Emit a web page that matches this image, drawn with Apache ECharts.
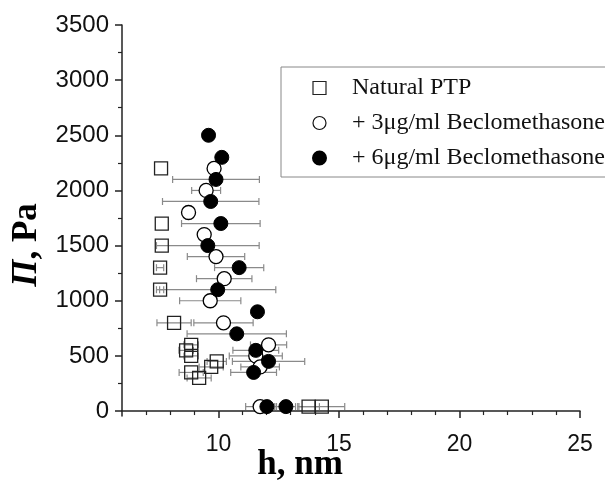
<!DOCTYPE html>
<html>
<head>
<meta charset="utf-8">
<script src="https://cdn.jsdelivr.net/npm/echarts@6/dist/echarts.min.js"></script>
<style>html,body{margin:0;padding:0;background:#fff}#c{width:605px;height:484px}</style>
</head>
<body>
<div id="c"></div>
<script>
// ---- data (h in nm, Π in Pa, horizontal error in nm) ----
var ptpH   = [7.62, 7.65, 7.65, 7.58, 7.58, 8.16, 8.87, 8.66, 8.87, 9.93, 9.70, 8.87, 9.20, 13.74, 14.29];
var ptpP   = [2200, 1700, 1500, 1300, 1100, 800, 600, 550, 500, 450, 400, 350, 300, 40, 40];
var ptpErr = [0, 0, 0, 0.15, 0.15, 0.71, 0.3, 0.3, 0.3, 0.4, 0.5, 0.5, 0.5, 0.45, 0.95];

var b3H   = [9.82, 9.49, 8.76, 9.41, 9.90, 10.24, 9.66, 10.21, 12.08, 11.55, 11.73, 11.73];
var b3P   = [2200, 2000, 1800, 1600, 1400, 1200, 1000, 800, 600, 500, 400, 40];
var b3Err = [0, 0.6, 0, 0, 1.19, 1.15, 1.27, 1.23, 0.75, 1.1, 0.8, 0.6];

var b6H   = [9.59, 10.14, 9.90, 9.68, 10.10, 9.56, 10.86, 9.97, 11.62, 10.76, 11.55, 12.08, 11.46, 12.01, 12.80];
var b6P   = [2500, 2300, 2100, 1900, 1700, 1500, 1300, 1100, 900, 700, 550, 450, 350, 40, 40];
var b6Err = [0, 0, 1.8, 2.0, 1.63, 2.13, 1.02, 2.41, 0, 2.06, 0.95, 1.5, 0.95, 0.4, 0.4];

var xMajor = [10, 15, 20, 25];
var xMinor = [7, 8, 9, 11, 12, 13, 14, 16, 17, 18, 19, 21, 22, 23, 24];
var yMajor = [0, 500, 1000, 1500, 2000, 2500, 3000, 3500];
var yMinor = [250, 750, 1250, 1750, 2250, 2750, 3250];

var names = ['Natural PTP', '+ 3\u03bcg/ml Beclomethasone', '+ 6\u03bcg/ml Beclomethasone'];

function pts(h, p) { return h.map(function (v, i) { return [v, p[i]]; }); }
function errPts(h, p, e) {
  var out = [];
  h.forEach(function (v, i) { if (e[i] > 0) out.push([v, p[i], e[i]]); });
  return out;
}
function errSeries(data) {
  return {
    type: 'custom', silent: true, z: 1,
    data: data,
    renderItem: function (params, api) {
      var x = api.value(0), y = api.value(1), e = api.value(2);
      var a = api.coord([x - e, y]), b = api.coord([x + e, y]);
      var st = { stroke: '#8a8a8a', lineWidth: 1.2 };
      return { type: 'group', children: [
        { type: 'line', shape: { x1: a[0], y1: a[1], x2: b[0], y2: b[1] }, style: st },
        { type: 'line', shape: { x1: a[0], y1: a[1] - 3.5, x2: a[0], y2: a[1] + 3.5 }, style: st },
        { type: 'line', shape: { x1: b[0], y1: b[1] - 3.5, x2: b[0], y2: b[1] + 3.5 }, style: st }
      ]};
    }
  };
}
function plain(v) { return String(v); }

var chart = echarts.init(document.getElementById('c'), null, { renderer: 'canvas' });
var sans = 'Liberation Sans, Arial, sans-serif';
chart.setOption({
  animation: false,
  backgroundColor: '#fff',
  grid: { left: 122, right: 25, top: 25, bottom: 68 },
  xAxis: [{
    type: 'value', min: 6, max: 25, position: 'bottom',
    axisLine: { lineStyle: { color: '#222', width: 1.5 } },
    axisTick: { customValues: xMajor, length: 7, lineStyle: { color: '#222', width: 1.5 } },
    axisLabel: { customValues: xMajor, margin: 17, formatter: plain, fontFamily: sans, fontSize: 23, color: '#111' },
    splitLine: { show: false }
  }, {
    type: 'value', min: 6, max: 25, position: 'bottom',
    axisLine: { show: false },
    axisTick: { customValues: xMinor, length: 4, lineStyle: { color: '#222', width: 1.2 } },
    axisLabel: { show: false },
    splitLine: { show: false }
  }],
  yAxis: [{
    type: 'value', min: -45, max: 3500, position: 'left',
    axisLine: { show: true, lineStyle: { color: '#222', width: 1.5 } },
    axisTick: { show: true, customValues: yMajor, length: 7, lineStyle: { color: '#222', width: 1.5 } },
    axisLabel: { customValues: yMajor, margin: 13, formatter: plain, fontFamily: sans, fontSize: 24, color: '#111' },
    splitLine: { show: false }
  }, {
    type: 'value', min: -45, max: 3500, position: 'left',
    axisLine: { show: false },
    axisTick: { show: true, customValues: yMinor, length: 4, lineStyle: { color: '#222', width: 1.2 } },
    axisLabel: { show: false },
    splitLine: { show: false }
  }],
  legend: {
    left: 281, top: 67, orient: 'vertical',
    data: [
      { name: names[0], icon: 'rect', itemStyle: { color: '#fff', borderColor: '#222', borderWidth: 1.2 } },
      { name: names[1], icon: 'circle', itemStyle: { color: '#fff', borderColor: '#111', borderWidth: 1.2 } },
      { name: names[2], icon: 'circle', itemStyle: { color: '#000' } }
    ],
    itemWidth: 13, itemHeight: 13, itemGap: 11,
    padding: [9, 40, 7, 31],
    borderColor: '#888', borderWidth: 1, backgroundColor: '#fff',
    textStyle: { fontFamily: 'Liberation Serif, Times New Roman, serif', fontSize: 24, color: '#111', padding: [0, 0, 0, 21], lineHeight: 24 },
    selectedMode: false
  },
  graphic: [
    { type: 'text', x: 300, y: 465,
      style: { text: 'h, nm', font: 'bold 35px "Liberation Serif", serif', fill: '#000', align: 'center', verticalAlign: 'middle' } },
    { type: 'text', x: 27, y: 245, rotation: Math.PI / 2,
      style: { text: '{i|\u03a0}{b|, Pa}', align: 'center', verticalAlign: 'middle',
        rich: { i: { font: 'italic bold 35px "Liberation Serif", serif', fill: '#000' },
                b: { font: 'bold 35px "Liberation Serif", serif', fill: '#000' } } } }
  ],
  series: [
    errSeries(errPts(ptpH, ptpP, ptpErr)),
    errSeries(errPts(b3H, b3P, b3Err)),
    errSeries(errPts(b6H, b6P, b6Err)),
    { name: names[0], type: 'scatter', z: 3, symbol: 'rect', symbolSize: 13, data: pts(ptpH, ptpP),
      itemStyle: { color: 'rgba(255,255,255,0)', borderColor: '#222', borderWidth: 1.3, opacity: 1 } },
    { name: names[1], type: 'scatter', z: 4, symbol: 'circle', symbolSize: 14, data: pts(b3H, b3P),
      itemStyle: { color: '#fff', borderColor: '#000', borderWidth: 1.3, opacity: 1 } },
    { name: names[2], type: 'scatter', z: 5, symbol: 'circle', symbolSize: 14, data: pts(b6H, b6P),
      itemStyle: { color: '#000', borderColor: '#000', borderWidth: 1, opacity: 1 } }
  ]
});
</script>
</body>
</html>
